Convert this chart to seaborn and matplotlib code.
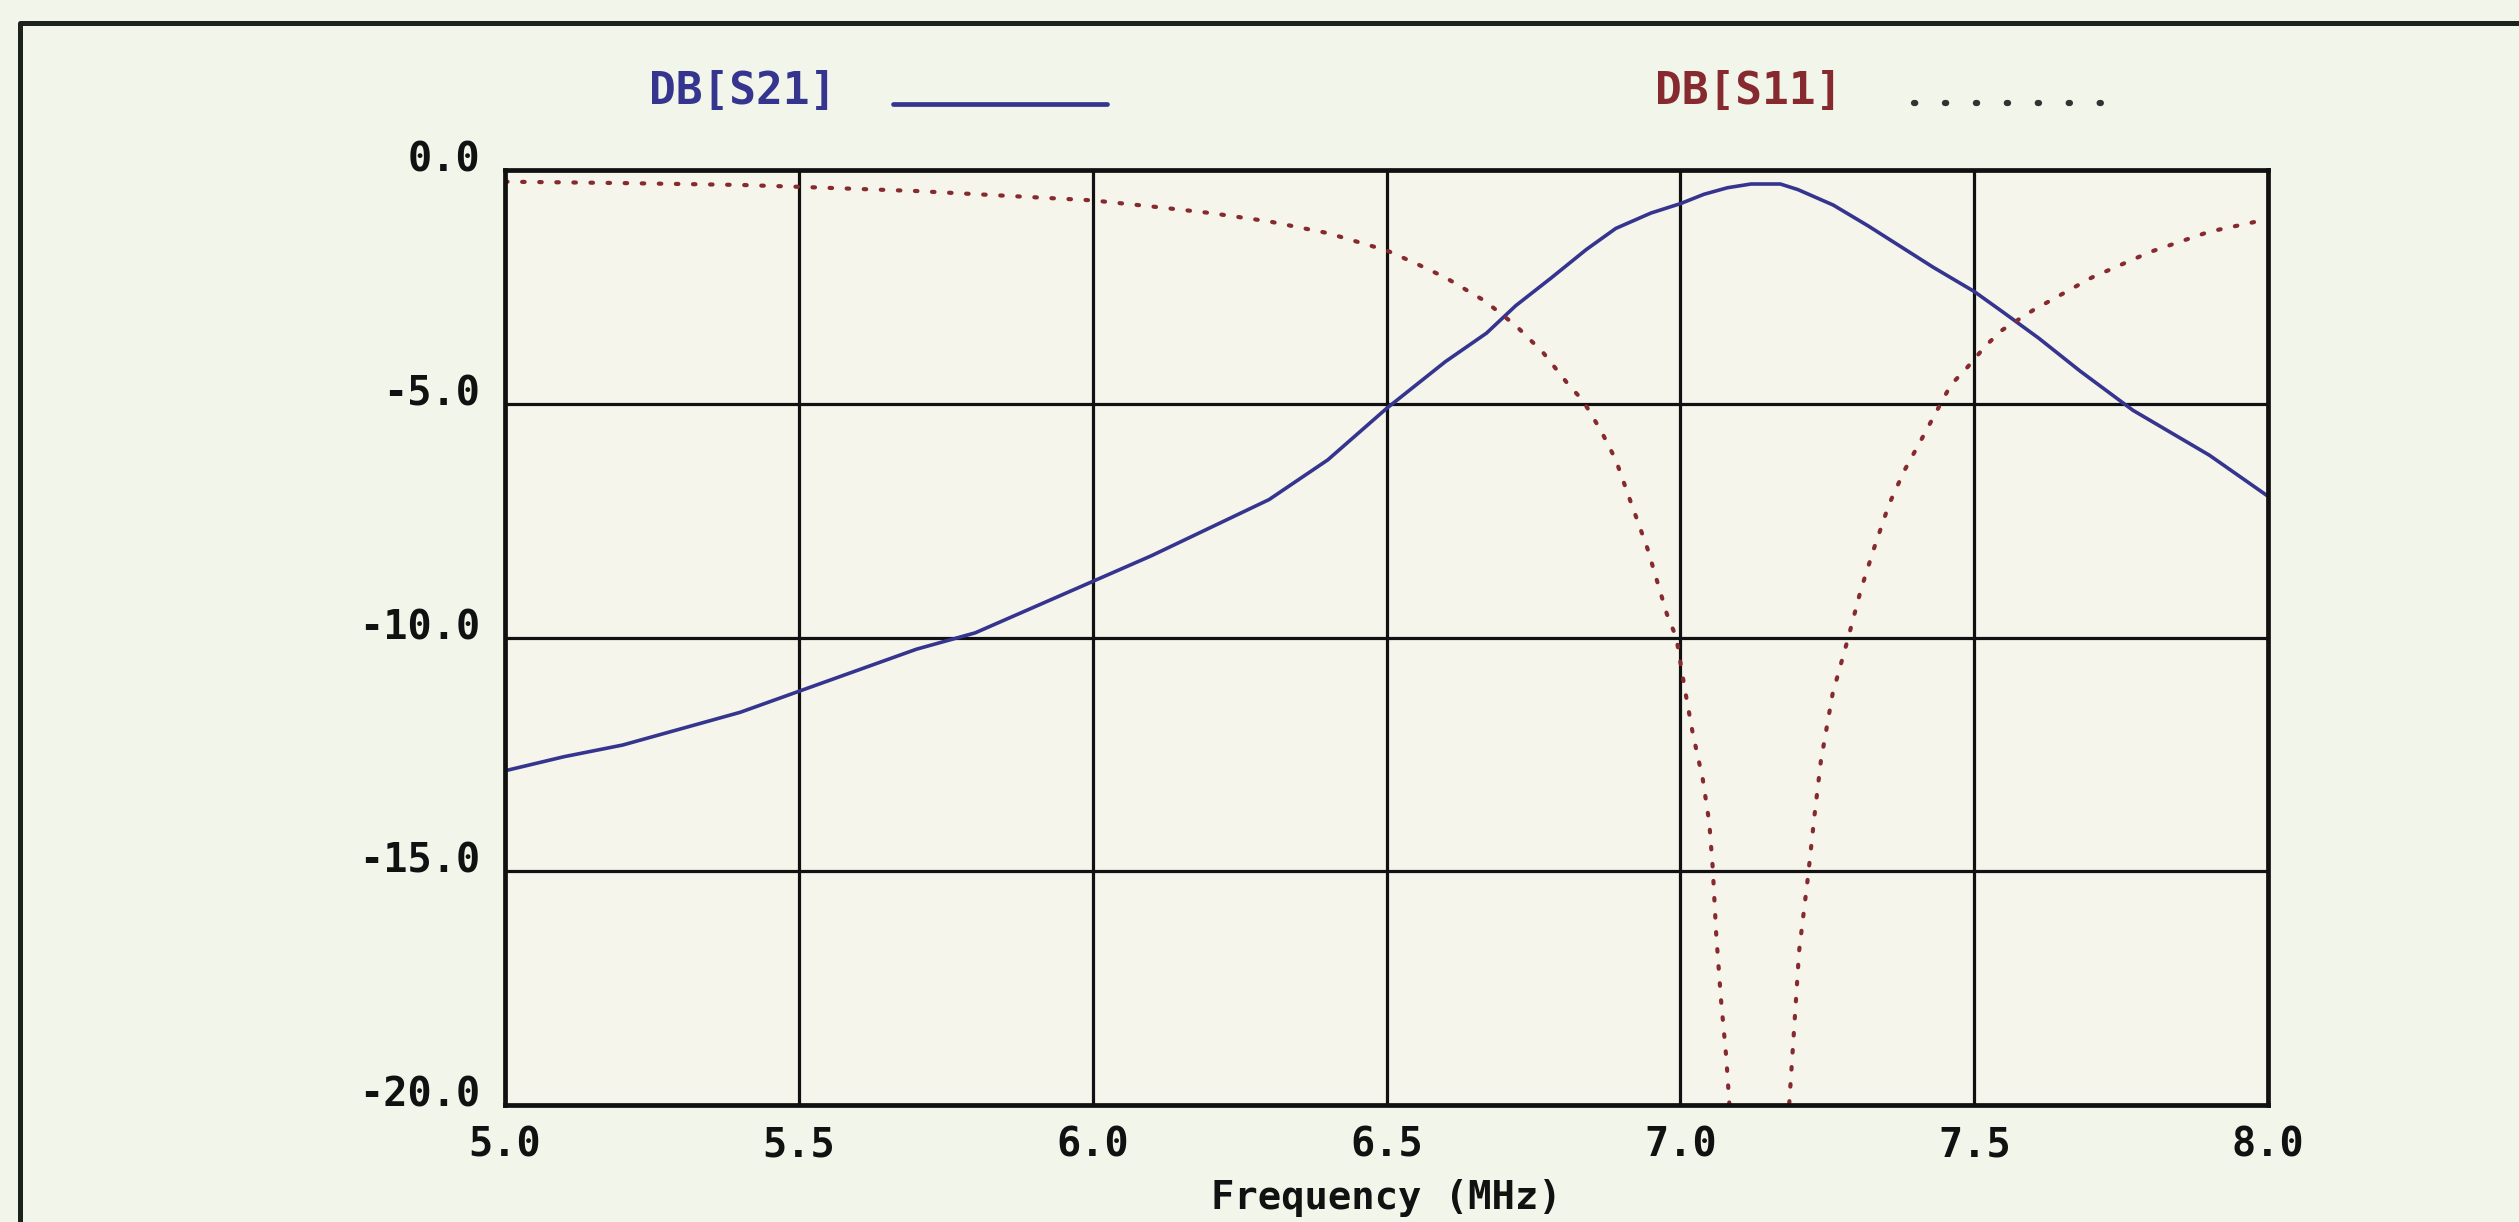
import pandas as pd
import matplotlib.pyplot as plt
import matplotlib.transforms as mtransforms
from matplotlib.lines import Line2D
import seaborn as sns

# -----------------------------
# Data
# -----------------------------
s21_freq = [5.0, 5.1, 5.2, 5.3, 5.4, 5.5, 5.6, 5.7, 5.8, 5.9, 6.0, 6.1, 6.2,
            6.3, 6.4, 6.5, 6.6, 6.67, 6.72, 6.78, 6.84, 6.89, 6.95, 7.0,
            7.04, 7.08, 7.12, 7.17, 7.2, 7.26, 7.32, 7.38, 7.43, 7.5, 7.55,
            7.61, 7.68, 7.77, 7.9, 8.0]
s21_db = [-12.85, -12.55, -12.3, -11.95, -11.6, -11.15, -10.7, -10.25, -9.9,
          -9.35, -8.8, -8.25, -7.65, -7.05, -6.2, -5.1, -4.1, -3.49, -2.9,
          -2.31, -1.7, -1.25, -0.92, -0.72, -0.52, -0.38, -0.3, -0.3,
          -0.42, -0.75, -1.2, -1.68, -2.08, -2.6, -3.05, -3.6, -4.3,
          -5.14, -6.1, -6.98]

s11_freq = [5.0, 5.2, 5.4, 5.5, 5.7, 5.85, 6.0, 6.1, 6.2, 6.3, 6.4, 6.5,
            6.55, 6.6, 6.667, 6.72, 6.766, 6.81, 6.834, 6.865, 6.89, 6.916,
            6.944, 6.96, 6.977, 6.993, 7.007, 7.021, 7.038, 7.049, 7.055,
            7.061, 7.069, 7.078, 7.083, 7.135, 7.185, 7.194, 7.202, 7.217,
            7.228, 7.239, 7.259, 7.285, 7.307, 7.33, 7.355, 7.381, 7.415,
            7.429, 7.46, 7.489, 7.52, 7.548, 7.6, 7.7, 7.8, 7.9, 8.0]
s11_db = [-0.25, -0.28, -0.32, -0.36, -0.45, -0.55, -0.65, -0.78, -0.92,
          -1.1, -1.35, -1.72, -2.0, -2.3, -2.8, -3.33, -3.9, -4.6, -4.93,
          -5.58, -6.2, -7.12, -8.1, -8.78, -9.5, -10.0, -11.07, -12.05,
          -13.03, -13.95, -14.93, -16.37, -17.74, -18.98, -19.93, -30.0,
          -20.0, -18.26, -16.7, -15.12, -13.82, -12.64, -11.2, -10.03,
          -8.98, -8.07, -7.15, -6.43, -5.65, -5.32, -4.6, -4.21, -3.75,
          -3.42, -3.0, -2.3, -1.75, -1.32, -1.05]

x_ticks = [5.0, 5.5, 6.0, 6.5, 7.0, 7.5, 8.0]
x_labels = ["5.0", "5.5", "6.0", "6.5", "7.0", "7.5", "8.0"]
y_ticks = [0.0, -5.0, -10.0, -15.0, -20.0]
y_labels = ["0.0", "-5.0", "-10.0", "-15.0", "-20.0"]

BLUE = "#35358f"
RED = "#862a30"
BG = "#f1f5ea"
INK = "#111111"

sns.set_theme(style="white")
plt.rcParams["font.family"] = ["DejaVu Sans Mono", "DejaVu Sans"]
plt.rcParams["font.weight"] = "bold"

fig = plt.figure(figsize=(25.19, 12.22), dpi=100, facecolor=BG)
ax = fig.add_axes([0.2005, 0.0957, 0.6999, 0.7652])
ax.set_facecolor("#f5f5ec")

df21 = pd.DataFrame({"freq": s21_freq, "db": s21_db})
df11 = pd.DataFrame({"freq": s11_freq, "db": s11_db})

sns.lineplot(data=df21, x="freq", y="db", ax=ax, color=BLUE, linewidth=2.6,
             sort=False, estimator=None)
sns.lineplot(data=df11, x="freq", y="db", ax=ax, color=RED, linewidth=3.0,
             linestyle=(0, (0.6, 3.5)), dash_capstyle="round",
             sort=False, estimator=None)

ax.set_xlim(5.0, 8.0)
ax.set_ylim(-20.0, 0.0)
ax.set_xticks(x_ticks)
ax.set_xticklabels(x_labels)
ax.set_yticks(y_ticks)
ax.set_yticklabels(y_labels)
ax.tick_params(axis="both", length=0, labelsize=29, colors=INK)
ax.tick_params(axis="x", pad=15)
ax.tick_params(axis="y", pad=18)
for lab in ax.get_xticklabels() + ax.get_yticklabels():
    lab.set_fontweight("bold")

# y labels sit a little above their grid line
offset = mtransforms.ScaledTranslation(0, 0.14, fig.dpi_scale_trans)
for lab in ax.get_yticklabels():
    lab.set_transform(lab.get_transform() + offset)

ax.grid(True, color=INK, linewidth=2.3)
for sp in ax.spines.values():
    sp.set_color(INK)
    sp.set_linewidth(3.4)
    sp.set_visible(True)

ax.set_xlabel("Frequency (MHz)", fontsize=28, fontweight="bold",
              color=INK, labelpad=10)
ax.set_ylabel("")

# legend drawn as in the instrument header
fig.text(0.2577, 0.9250, "DB[S21]", color=BLUE, fontsize=32,
         fontweight="bold", va="center", ha="left")
fig.add_artist(Line2D([0.3545, 0.4395], [0.9149, 0.9149], color=BLUE,
                      linewidth=3.4, transform=fig.transFigure))
fig.text(0.6570, 0.9250, "DB[S11]", color=RED, fontsize=32,
         fontweight="bold", va="center", ha="left")
fig.add_artist(Line2D([0.7598, 0.8345], [0.9160, 0.9160], color="#333333",
                      linewidth=4.5, linestyle=(0, (0.2, 4.75)),
                      dash_capstyle="round", transform=fig.transFigure))

# outer frame (top and left edges only)
fig.add_artist(Line2D([0.0079, 0.0079, 1.0], [0.0, 0.9812, 0.9812],
                      color="#1c231c", linewidth=3.6,
                      transform=fig.transFigure))

fig.savefig("out.png", dpi=100, facecolor=BG)
